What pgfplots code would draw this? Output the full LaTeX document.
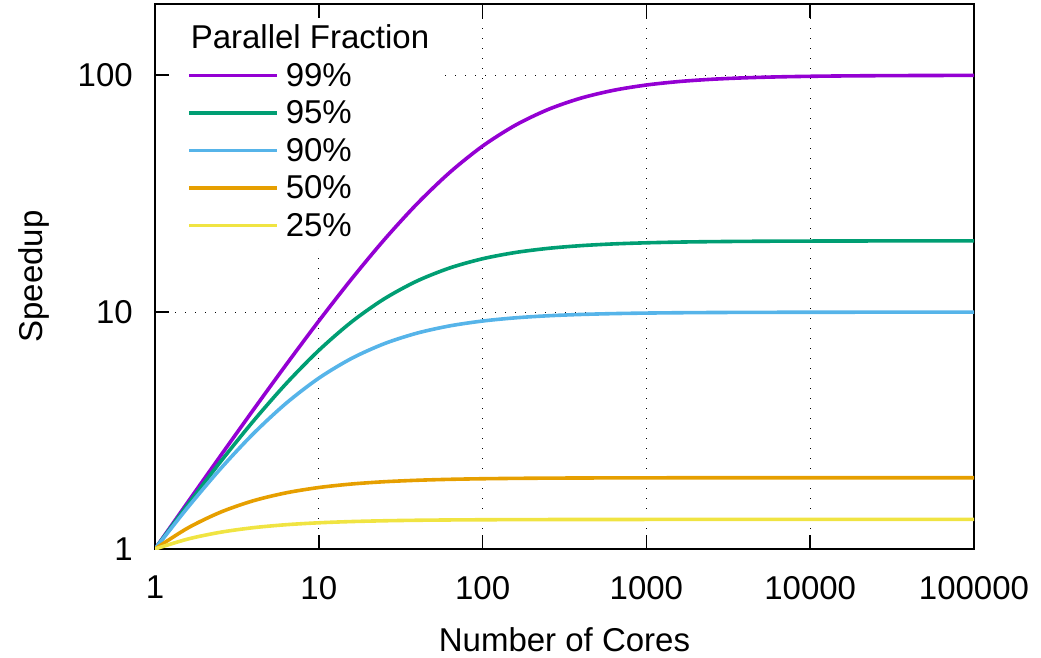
\documentclass[border=0pt]{standalone}
\usepackage{fontspec}
\setmainfont{Liberation Sans}
\usepackage{pgfplots}
\pgfplotsset{compat=1.18}
\definecolor{cP}{HTML}{9400D3}
\definecolor{cG}{HTML}{009E73}
\definecolor{cB}{HTML}{56B4E9}
\definecolor{cO}{HTML}{E69F00}
\definecolor{cY}{HTML}{F0E442}
\begin{document}
\begin{tikzpicture}
\begin{axis}[
  at={(0pt,0pt)}, anchor=south west,
  set layers,
  xmode=log, ymode=log, log basis x=10, log basis y=10,
  scale only axis, width=819pt, height=545pt,
  xmin=1, xmax=100000, ymin=1, ymax=200,
  xtick={1,10,100,1000,10000,100000},
  xticklabels={1,10,100,1000,10000,100000},
  ytick={1,10,100}, yticklabels={1,10,100},
  xminorticks=false, yminorticks=false,
  tick align=inside, major tick length=14pt,
  tick style={black, line width=1.6pt},
  axis line style={black, line width=1.6pt},
  grid=major, major grid style={black, line width=1pt, dash pattern=on 1pt off 9pt},
  tick label style={font=\fontsize{33}{39}\selectfont},
  label style={font=\fontsize{33}{39}\selectfont},
  xticklabel style={anchor=north, inner sep=0pt, yshift=-27pt},
  yticklabel style={anchor=east, inner sep=0pt, xshift=-22pt},
  xlabel={Number of Cores}, ylabel={Speedup},
  xlabel style={at={([yshift=-102pt]rel axis cs:0.5,0)}, anchor=base, inner sep=0pt},
  ylabel style={at={([xshift=-112pt]rel axis cs:0,0.5)}, anchor=base, inner sep=0pt},
  legend style={at={(rel axis cs:0,1)}, anchor=north west, xshift=15pt, yshift=-12pt,
    draw=none, fill=none, inner xsep=17pt, inner ysep=4pt,
    font=\fontsize{33}{39}\selectfont, column sep=7pt,
    nodes={inner sep=0pt, text height=28.5pt, text depth=9pt}},
  legend cell align=left,
  legend image code/.code={\draw[#1,line width=3.6pt] (0pt,1pt) -- (88pt,1pt);},
]
\begin{pgfonlayer}{pre main}
\fill[white] (rel axis cs:0.022,0.5505) rectangle (rel axis cs:0.354,0.9743);
\end{pgfonlayer}
\addlegendimage{empty legend}
\addlegendentry{\hspace*{-95pt}Parallel Fraction}
\addplot[cP, line width=3.6pt, smooth] coordinates {
(1,1)(1.58489,1.5757)(2.51189,2.4745)(3.98107,3.8658)(6.30957,5.9915)(10,9.1743)
(15.8489,13.800)(25.1189,20.238)(39.8107,28.680)(63.0957,38.925)(100,50.251)
(158.489,61.551)(251.189,71.729)(398.107,80.085)(630.957,86.438)(1000,90.992)
(1584.89,94.121)(2511.89,96.208)(3981.07,97.574)(6309.57,98.455)(10000,99.020)
(15848.9,99.379)(25118.9,99.607)(39810.7,99.752)(63095.7,99.843)(100000,99.901)};
\addlegendentry{99\%}
\addplot[cG, line width=3.6pt, smooth] coordinates {
(1,1)(1.58489,1.5399)(2.51189,2.3353)(3.98107,3.4647)(6.30957,4.9859)(10,6.8966)
(15.8489,9.0958)(25.1189,11.387)(39.8107,13.539)(63.0957,15.371)(100,16.807)
(158.489,17.859)(251.189,18.593)(398.107,19.089)(630.957,19.415)(1000,19.627)
(1584.89,19.763)(2511.89,19.850)(3981.07,19.905)(6309.57,19.940)(10000,19.962)
(15848.9,19.976)(25118.9,19.985)(39810.7,19.990)(63095.7,19.994)(100000,19.996)};
\addlegendentry{95\%}
\addplot[cB, line width=3.6pt, smooth] coordinates {
(1,1)(1.58489,1.4973)(2.51189,2.1820)(3.98107,3.0668)(6.30957,4.1213)(10,5.2632)
(15.8489,6.3781)(25.1189,7.3621)(39.8107,8.1561)(63.0957,8.7517)(100,9.1743)
(158.489,9.4627)(251.189,9.6541)(398.107,9.7789)(630.957,9.8594)(1000,9.9108)
(1584.89,9.9435)(2511.89,9.9643)(3981.07,9.9774)(6309.57,9.9858)(10000,9.9910)
(15848.9,9.9943)(25118.9,9.9964)(39810.7,9.9977)(63095.7,9.9986)(100000,9.9991)};
\addlegendentry{90\%}
\addplot[cO, line width=3.6pt, smooth] coordinates {
(1,1)(1.58489,1.2263)(2.51189,1.4305)(3.98107,1.5985)(6.30957,1.7264)(10,1.8182)
(15.8489,1.8813)(25.1189,1.9234)(39.8107,1.9510)(63.0957,1.9688)(100,1.9802)
(158.489,1.9875)(251.189,1.9921)(398.107,1.9950)(630.957,1.9968)(1000,1.9980)
(1584.89,1.9987)(2511.89,1.9992)(3981.07,1.9995)(6309.57,1.9997)(10000,1.9998)
(15848.9,1.9999)(25118.9,1.9999)(39810.7,2.0000)(63095.7,2.0000)(100000,2.0000)};
\addlegendentry{50\%}
\addplot[cY, line width=3.6pt, smooth] coordinates {
(1,1)(1.58489,1.1016)(2.51189,1.1771)(3.98107,1.2303)(6.30957,1.2664)(10,1.2903)
(15.8489,1.3059)(25.1189,1.3159)(39.8107,1.3223)(63.0957,1.3263)(100,1.3289)
(158.489,1.3305)(251.189,1.3316)(398.107,1.3322)(630.957,1.3326)(1000,1.3329)
(1584.89,1.3330)(2511.89,1.3331)(3981.07,1.3332)(6309.57,1.3333)(10000,1.3333)
(15848.9,1.3333)(25118.9,1.3333)(39810.7,1.3333)(63095.7,1.3333)(100000,1.3333)};
\addlegendentry{25\%}
\end{axis}
\pgfresetboundingbox
\useasboundingbox (-155pt,-108pt) rectangle (886pt,549pt);
\end{tikzpicture}
\end{document}
